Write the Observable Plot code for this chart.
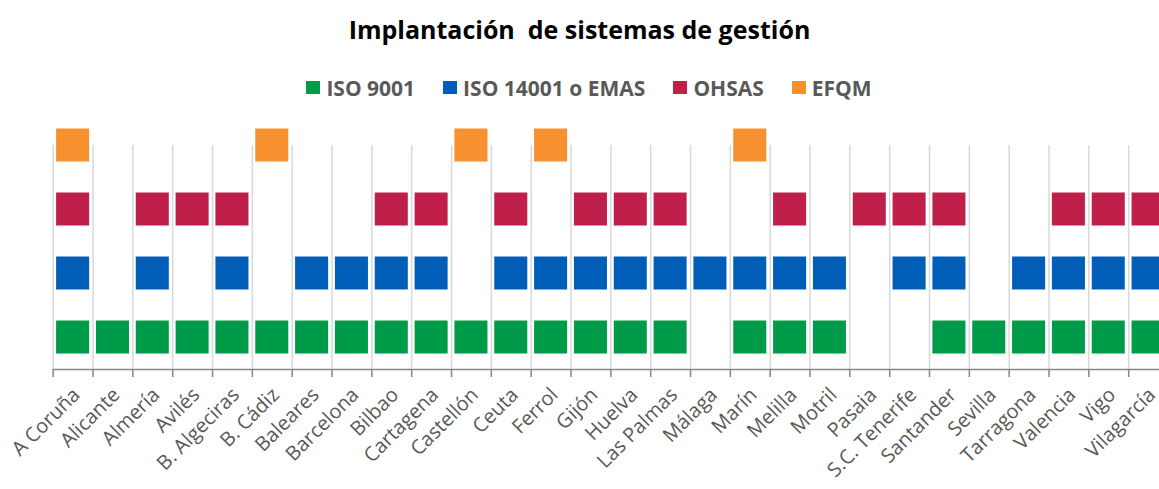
<!DOCTYPE html>
<html>
<head>
<meta charset="utf-8">
<script src="https://cdn.jsdelivr.net/npm/d3@7"></script>
<script src="https://cdn.jsdelivr.net/npm/@observablehq/plot@0.6"></script>
<style>
  html, body { margin: 0; padding: 0; background: #fff; overflow: hidden; }
  #wrap { width: 1159px; position: relative; }
  #title { box-sizing: border-box; height: 46px; padding-top: 12px; line-height: 34px; text-align: center; font-family: "Open Sans", sans-serif; font-weight: 700; font-size: 25px; color: #000; white-space: pre; }
  #legend { box-sizing: border-box; height: 66px; padding-top: 17px; padding-left: 19px; display: flex; justify-content: center; align-items: center; font-family: "Open Sans", sans-serif; font-weight: 700; font-size: 21px; color: #595959; }
  .item { display: flex; align-items: center; margin: 0 14px; }
  .sw { width: 14px; height: 13px; margin-right: 6px; }
  #chart svg { display: block; }
</style>
</head>
<body>
<div id="wrap">
  <div id="title">Implantación  de sistemas de gestión</div>
  <div id="legend"></div>
  <div id="chart"></div>
</div>
<script>
const ports = ["A Coruña","Alicante","Almería","Avilés","B. Algeciras","B. Cádiz","Baleares","Barcelona","Bilbao","Cartagena","Castellón","Ceuta","Ferrol","Gijón","Huelva","Las Palmas","Málaga","Marín","Melilla","Motril","Pasaia","S.C. Tenerife","Santander","Sevilla","Tarragona","Valencia","Vigo","Vilagarcía"];
const seriesNames = ["ISO 9001","ISO 14001 o EMAS","OHSAS","EFQM"];
const seriesColors = ["#009B48","#005EB8","#BE204A","#F7902F"];
const iso9001  = [1,1,1,1,1,1,1,1,1,1,1,1,1,1,1,1,0,1,1,1,0,0,1,1,1,1,1,1];
const iso14001 = [1,0,1,0,1,0,1,1,1,1,0,1,1,1,1,1,1,1,1,1,0,1,1,0,1,1,1,1];
const ohsas    = [1,0,1,1,1,0,0,0,1,1,0,1,0,1,1,1,0,0,1,0,1,1,1,0,0,1,1,1];
const efqm     = [1,0,0,0,0,1,0,0,0,0,1,0,1,0,0,0,0,1,0,0,0,0,0,0,0,0,0,0];
const seriesFlags = [iso9001, iso14001, ohsas, efqm];

// legend
const legend = document.getElementById("legend");
seriesNames.forEach((n, i) => {
  const it = document.createElement("div");
  it.className = "item";
  it.innerHTML = `<div class="sw" style="background:${seriesColors[i]}"></div><span>${n}</span>`;
  legend.appendChild(it);
});

const data = [];
seriesFlags.forEach((flags, si) => {
  flags.forEach((f, pi) => { if (f) data.push({port: ports[pi], series: seriesNames[si], level: si + 1}); });
});

const W = 1159, H = 377;
const x0 = 52.7, x1 = 1168;
const bw = (x1 - x0) / ports.length;
const half = 33 / 64 / 2;

const chart = Plot.plot({
  width: W,
  height: H,
  marginLeft: x0,
  marginRight: 0,
  marginTop: 33,
  marginBottom: 120,
  style: {fontFamily: "Open Sans, sans-serif", fontSize: "20px", color: "#595959", background: "#fff", overflow: "visible"},
  x: {domain: ports, range: [x0, x1], padding: 0, round: false, axis: null},
  y: {domain: [0.5, 4], axis: null},
  color: {domain: seriesNames, range: seriesColors},
  marks: [
    Plot.ruleX(ports, {x: d => d, y1: 0.5, y2: 4, dx: -bw / 2, stroke: "#d9d9d9", strokeWidth: 1.5}),
    Plot.ruleX(ports, {x: d => d, y1: 0.5 - 8 / 64, y2: 0.5, dx: -bw / 2, stroke: "#868686", strokeWidth: 1.5}),
    Plot.ruleY([0.5], {stroke: "#868686", strokeWidth: 1.5}),
    Plot.barY(data, {x: "port", y1: d => d.level - half, y2: d => d.level + half, fill: "series", insetLeft: 3.4, insetRight: 3.4}),
    Plot.text(ports, {x: d => d, y: 0.5, text: d => d, rotate: -45, textAnchor: "end", lineAnchor: "middle", dx: 3.5, dy: 22, fontSize: 20, fill: "#595959"})
  ]
});
document.getElementById("chart").appendChild(chart);
</script>
</body>
</html>
